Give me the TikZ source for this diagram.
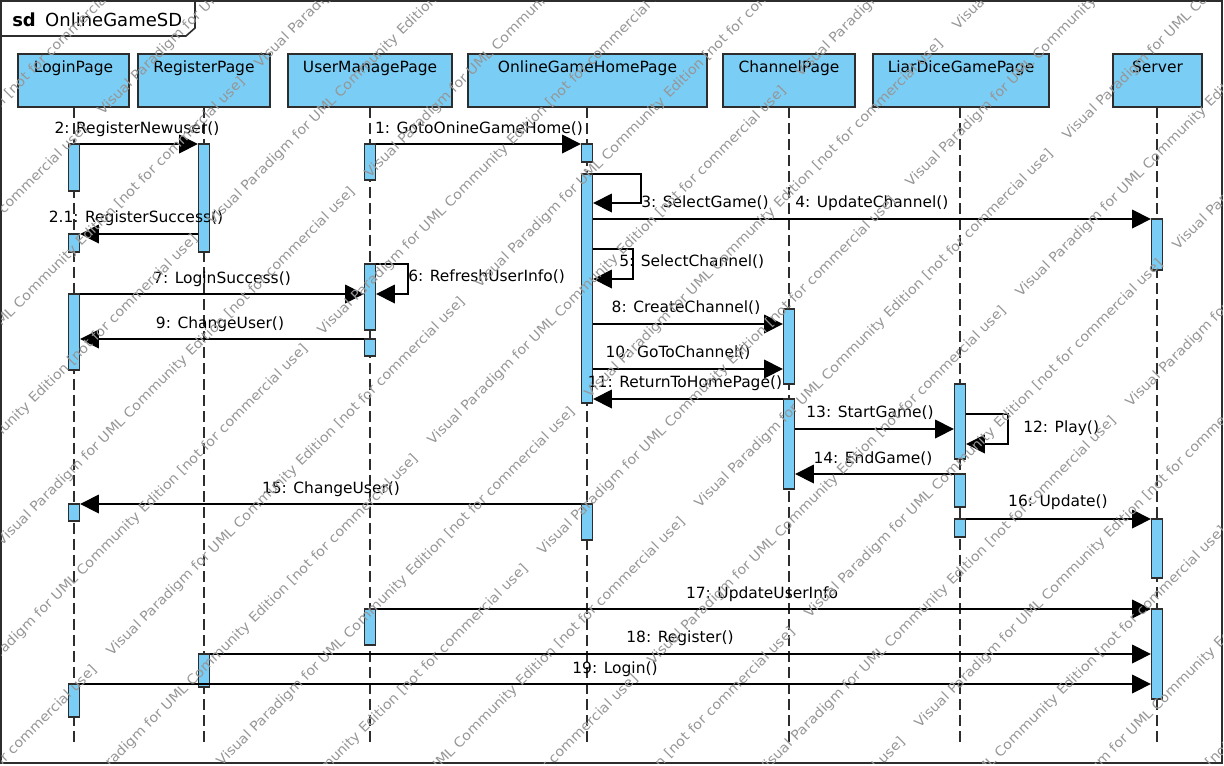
\documentclass[tikz,border=0pt]{standalone}
\usepackage{fontspec}
\setmainfont{DejaVu Sans}
\usetikzlibrary{arrows.meta}
\definecolor{vpblue}{RGB}{122,205,244}
\definecolor{vpline}{RGB}{45,45,45}
\definecolor{wmgray}{RGB}{150,150,150}
\newcommand\actbox[4]{\node[actbar,minimum height={(#4-#3)*0.75pt}] (#1) at (#2,{(#3+#4)/2}) {};}
\begin{document}
\begin{tikzpicture}[x=0.75pt,y=-0.75pt,
  lblfont/.style={font=\fontsize{11.6pt}{13pt}\selectfont},
  headbox/.style={draw=vpline,line width=1.3pt,fill=vpblue,inner sep=0pt,
    text height=13.5pt,text depth=26.25pt,lblfont},
  actbar/.style={draw=vpline,line width=1pt,fill=vpblue,minimum width=8.25pt,inner sep=0pt},
  lifeline/.style={draw=vpline,line width=1.1pt,dash pattern=on 8.25pt off 3.75pt},
  msg/.style={draw=black,line width=1pt,-{Triangle[length=14pt,width=14pt]}},
  lbl/.style={anchor=base,inner sep=0pt,lblfont},
  lbll/.style={anchor=base west,inner sep=0pt,lblfont},
  wm/.style={anchor=west,inner sep=0pt,rotate=45,text=wmgray,font=\fontsize{10pt}{12pt}\selectfont}]
\useasboundingbox (0,0) rectangle (1224,765);
% frame
\draw[vpline,line width=1.2pt] (1,1) rectangle (1222,763);
\draw[vpline,line width=1.2pt] (195,1) -- (195,28) -- (186,36) -- (1,36);
\node[anchor=base west,inner sep=0pt,font=\fontsize{13.5pt}{15pt}\selectfont] (title) at (12,26) {\textbf{sd}\hspace{7pt}OnlineGameSD};
% heads
\node[headbox,minimum width=83.25pt] (hL) at (73.5,80.5) {LoginPage};
\node[headbox,minimum width=99pt] (hR) at (204,80.5) {RegisterPage};
\node[headbox,minimum width=123pt] (hU) at (370,80.5) {UserManagePage};
\node[headbox,minimum width=179.25pt] (hO) at (587.5,80.5) {OnlineGameHomePage};
\node[headbox,minimum width=99pt] (hC) at (789,80.5) {ChannelPage};
\node[headbox,minimum width=132pt] (hD) at (961,80.5) {LiarDiceGamePage};
\node[headbox,minimum width=66.75pt] (hS) at (1157.5,80.5) {Server};
% lifelines
\foreach \x in {74,204,370,587,789,960,1157}
  \draw[lifeline] (\x,107) -- (\x,744);
% activation bars
\actbox{L1}{74}{144}{191}
\actbox{L2}{74}{234}{252}
\actbox{L3}{74}{294}{370}
\actbox{L4}{74}{504}{521}
\actbox{L5}{74}{684}{717}
\actbox{R1}{204}{144}{252}
\actbox{R2}{204}{654}{687}
\actbox{U1}{370}{144}{180}
\actbox{U2}{370}{264}{330}
\actbox{U3}{370}{339}{356}
\actbox{U4}{370}{609}{645}
\actbox{O1}{587}{144}{162}
\actbox{O2}{587}{174}{403}
\actbox{O3}{587}{504}{540}
\actbox{C1}{789}{309}{384}
\actbox{C2}{789}{399}{489}
\actbox{D1}{960}{384}{459}
\actbox{D2}{960}{474}{507}
\actbox{D3}{960}{519}{537}
\actbox{S1}{1157}{219}{270}
\actbox{S2}{1157}{519}{578}
\actbox{S3}{1157}{609}{699}
% message levels
\foreach \n/\y in {a/144,b/234,c3t/174,c3b/203,d/219,c5t/249,c5b/279,c6t/264,c6b/294,
  e/324,f/339,g/369,h/399,c12t/414,c12b/444,i/429,j/474,k/504,l/519,m/609,n/654,o/684}
  \coordinate (y\n) at (0,\y);
% messages
\draw[msg] (U1.east |- ya) -- (O1.west |- ya);
\node[lbl] (t1) at (479,133) {1: GotoOnineGameHome()};
\draw[msg] (L1.east |- ya) -- (R1.west |- ya);
\node[lbl] (t2) at (137,133) {2: RegisterNewuser()};
\draw[msg] (R1.west |- yb) -- (L2.east |- yb);
\node[lbl] (t21) at (136,222) {2.1: RegisterSuccess()};
\draw[msg] (O2.east |- yc3t) -- (641,174) -- (641,203) -- (O2.east |- yc3b);
\node[lbll] (t3) at (641,207) {3: SelectGame()};
\draw[msg] (O2.east |- yd) -- (S1.west |- yd);
\node[lbll] (t4) at (795,207) {4: UpdateChannel()};
\draw[msg] (O2.east |- yc5t) -- (633,249) -- (633,279) -- (O2.east |- yc5b);
\node[lbll] (t5) at (619,266) {5: SelectChannel()};
\draw[msg] (U2.east |- yc6t) -- (408,264) -- (408,294) -- (U2.east |- yc6b);
\node[lbll] (t6) at (408,281) {6: RefreshUserInfo()};
\draw[msg] (L3.east |- yc6b) -- (U2.west |- yc6b);
\node[lbl] (t7) at (222,283) {7: LoginSuccess()};
\draw[msg] (O2.east |- ye) -- (C1.west |- ye);
\node[lbl] (t8) at (686,312) {8: CreateChannel()};
\draw[msg] (U3.west |- yf) -- (L3.east |- yf);
\node[lbl] (t9) at (220,328) {9: ChangeUser()};
\draw[msg] (O2.east |- yg) -- (C1.west |- yg);
\node[lbl] (t10) at (678,357) {10: GoToChannel()};
\draw[msg] (C2.west |- yh) -- (O2.east |- yh);
\node[lbl] (t11) at (685,387) {11: ReturnToHomePage()};
\draw[msg] (D1.east |- yc12t) -- (1008,414) -- (1008,444) -- (D1.east |- yc12b);
\node[lbll] (t12) at (1023,432) {12: Play()};
\draw[msg] (C2.east |- yi) -- (D1.west |- yi);
\node[lbl] (t13) at (870,417) {13: StartGame()};
\draw[msg] (D2.west |- yj) -- (C2.east |- yj);
\node[lbl] (t14) at (873,463) {14: EndGame()};
\draw[msg] (O3.west |- yk) -- (L4.east |- yk);
\node[lbl] (t15) at (331,493) {15: ChangeUser()};
\draw[msg] (D3.east |- yl) -- (S2.west |- yl);
\node[lbl] (t16) at (1058,506) {16: Update()};
\draw[msg] (U4.east |- ym) -- (S3.west |- ym);
\node[lbl] (t17) at (762,598) {17: UpdateUserInfo};
\draw[msg] (R2.east |- yn) -- (S3.west |- yn);
\node[lbl] (t18) at (680,642) {18: Register()};
\draw[msg] (L5.east |- yo) -- (S3.west |- yo);
\node[lbl] (t19) at (615,673) {19: Login()};
% watermark
\begin{scope}
\clip (1,1) rectangle (1222,763);
\foreach \n in {-1,...,16}{
  \foreach \k in {-2,...,4}{
    \pgfmathsetmacro\wx{55*\n+100+102*mod(abs(\n),2)+368*\k}
    \pgfmathsetmacro\wy{213+110*\n-\wx}
    \node[wm] at (\wx,\wy) {\scalebox{1.08}[1]{Visual Paradigm for UML Community Edition [not for commercial use]}};
  }
}
\end{scope}
\end{tikzpicture}
\end{document}
